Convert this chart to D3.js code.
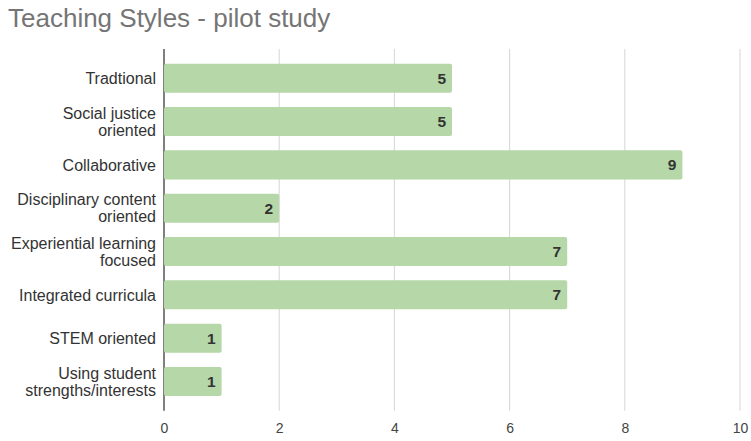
<!DOCTYPE html>
<html><head><meta charset="utf-8">
<script src="https://cdn.jsdelivr.net/npm/d3@7"></script>
<style>body{margin:0;background:#fff;} svg{display:block;font-family:"Liberation Sans", Arial, sans-serif;}</style>
</head><body>
<svg id="c" width="751" height="441"></svg>
<script>
const categories = [
  ["Tradtional"],
  ["Social justice", "oriented"],
  ["Collaborative"],
  ["Disciplinary content", "oriented"],
  ["Experiential learning", "focused"],
  ["Integrated curricula"],
  ["STEM oriented"],
  ["Using student", "strengths/interests"]
];
const values = [5, 5, 9, 2, 7, 7, 1, 1];
const xTicks = [0, 2, 4, 6, 8, 10];
const title = "Teaching Styles - pilot study";

(function () {
const svg = d3.select("#c");
const mLeft = 164, mRight = 740, mTop = 49, mBottom = 410.7;
const keys = categories.map((c, i) => i);
const x = d3.scaleLinear().domain([0, 10]).range([mLeft, mRight]);
const y = d3.scaleBand().domain(keys).range([mTop, mBottom]).paddingInner(0.33).paddingOuter(0.34);

svg.append("text").attr("x", 8).attr("y", 27).attr("font-size", 26).attr("fill", "#757575").text(title);

// gridlines
svg.append("g").selectAll("line").data(xTicks.filter(t => t !== 0)).join("line")
  .attr("x1", d => x(d)).attr("x2", d => x(d)).attr("y1", mTop).attr("y2", mBottom)
  .attr("stroke", "#d6d6d6").attr("stroke-width", 1);

// x axis labels
const xAxis = d3.axisBottom(x).tickValues(xTicks).tickSize(0).tickPadding(0).tickFormat(d3.format("d"));
const gx = svg.append("g").attr("transform", `translate(0,${mBottom + 12})`).call(xAxis);
gx.select(".domain").remove();
gx.selectAll("text").attr("font-size", 14).attr("fill", "#444").attr("font-family", "'Liberation Sans', Arial, sans-serif").attr("dy", "0.71em");

// zero axis line
svg.append("line").attr("x1", x(0)).attr("x2", x(0)).attr("y1", mTop).attr("y2", mBottom)
  .attr("stroke", "#555").attr("stroke-width", 1.5);

// bars
svg.append("g").selectAll("rect").data(values).join("rect")
  .attr("x", x(0)).attr("y", (d, i) => y(i)).attr("width", d => x(d) - x(0)).attr("height", y.bandwidth())
  .attr("rx", 2).attr("fill", "#b6d7a8");

// value labels
svg.append("g").selectAll("text").data(values).join("text")
  .attr("x", d => x(d) - 6).attr("y", (d, i) => y(i) + y.bandwidth() / 2).attr("dy", "0.36em")
  .attr("text-anchor", "end").attr("font-size", 15.5).attr("font-weight", "bold").attr("fill", "#333")
  .text(d => d);

// category labels
const gy = svg.append("g");
categories.forEach((lines, i) => {
  const cy = y(i) + y.bandwidth() / 2;
  const lh = 17;
  const t = gy.append("text").attr("text-anchor", "end").attr("font-size", 16).attr("fill", "#333");
  lines.forEach((ln, j) => {
    t.append("tspan").attr("x", mLeft - 8)
      .attr("y", cy + (j - (lines.length - 1) / 2) * lh).attr("dy", "0.36em").text(ln);
  });
});
})();
</script>
</body></html>
